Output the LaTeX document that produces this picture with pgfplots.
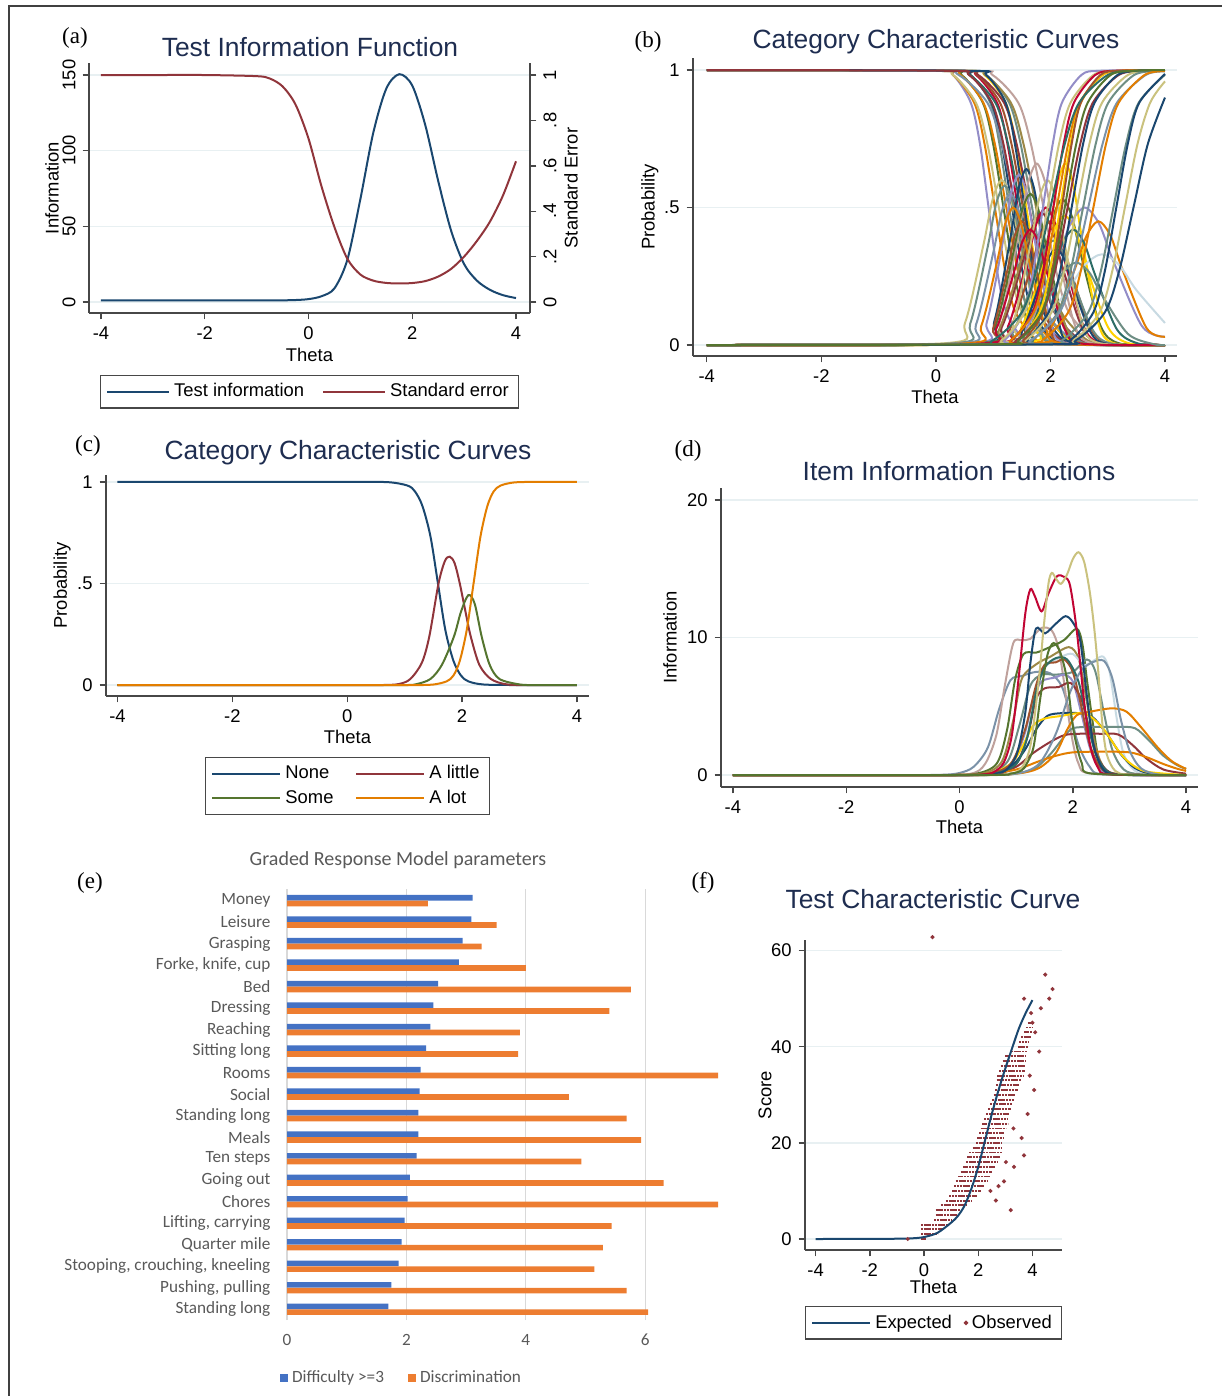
\documentclass[border=0pt]{standalone}
\usepackage{fontspec}
\setmainfont{Liberation Sans}
\newfontfamily\serifpanel{Liberation Serif}
\newfontfamily\carlito{Carlito}
\usepackage{pgfplots}
\pgfplotsset{compat=1.18}
\usepackage{pgfplotstable}

% Stata s2color palette
\definecolor{stnavy}{RGB}{26,71,111}
\definecolor{stmaroon}{RGB}{144,53,59}
\definecolor{stforest}{RGB}{85,117,47}
\definecolor{storange}{RGB}{227,126,0}
\definecolor{stteal}{RGB}{110,142,132}
\definecolor{stcran}{RGB}{193,5,52}
\definecolor{stlav}{RGB}{147,141,199}
\definecolor{stkhaki}{RGB}{202,194,126}
\definecolor{stsienna}{RGB}{160,82,45}
\definecolor{stemid}{RGB}{123,146,168}
\definecolor{stemer}{RGB}{45,109,102}
\definecolor{stbrown}{RGB}{156,136,71}
\definecolor{sterose}{RGB}{191,161,156}
\definecolor{stgold}{RGB}{255,210,0}
\definecolor{stbgray}{RGB}{200,218,226}
\definecolor{sttitle}{RGB}{30,45,80}
\definecolor{stgrid}{RGB}{232,240,242}
% Excel palette
\definecolor{xlblue}{RGB}{68,114,196}
\definecolor{xlorange}{RGB}{237,125,49}
\definecolor{xltext}{RGB}{89,89,89}
\definecolor{xlgrid}{RGB}{217,217,217}

\pgfplotsset{
  stata/.style={
    scale only axis,
    axis x line*=bottom, axis y line*=left,
    axis line style={-, draw=black!72, line width=0.7pt},
    tick align=outside, major tick length=3.2pt,
    tick style={draw=black!72, line width=0.7pt},
    ymajorgrids, grid style={draw=stgrid, line width=0.7pt},
    tick label style={font=\fontsize{9.2}{11}\selectfont},
    label style={font=\fontsize{9.2}{11}\selectfont},
    xtick={-4,-2,0,2,4}, xticklabels={-4,-2,0,2,4},
    every axis plot/.append style={line width=1pt, smooth, no markers},
    legend style={draw=black!72, line width=0.6pt, font=\fontsize{9.2}{11}\selectfont,
      legend columns=2, anchor=north, inner xsep=3pt, inner ysep=2pt, cells={anchor=west},
      /tikz/every even column/.append style={column sep=7pt}},
    legend image code/.code={\draw[#1, line width=1pt] (0pt,0pt) -- (31pt,0pt);},
  },
}

% logistic curves of panel (b): probability column, then theta for each curve
\pgfplotstableread{
yd yi D1 D2 D3 D4 D5 D6 D7 D8 D9 D10 D11 D12 D13 D14 D15 D16 D17 D18 I1 I2 I3 I4 I5 I6 I7 I8 I9 I10 I17 I18
1 0 -4 -4 -4 -4 -4 -4 -4 -4 -4 -4 -4 -4 -4 -4 -4 -4 -4 -4 -4 -4 -4 -4 -4 -4 -4 -4 -4 -4 -4 -4
0.9975 0.0025 0.00 -0.06 -0.10 0.09 0.03 0.28 0.24 0.18 0.34 0.15 0.32 0.49 0.30 0.48 0.42 0.55 -0.10 0.55 0.87 0.75 0.96 0.91 1.08 1.05 0.97 1.17 1.13 1.24 1.20 0.50
0.982 0.018 0.30 0.30 0.30 0.45 0.43 0.61 0.60 0.58 0.70 0.59 0.72 0.85 0.74 0.88 0.86 0.99 0.40 0.88 1.20 1.15 1.32 1.31 1.44 1.45 1.41 1.57 1.57 1.68 1.53 1.00
0.881 0.119 0.61 0.67 0.70 0.82 0.83 0.95 0.97 0.98 1.07 1.04 1.12 1.22 1.19 1.28 1.31 1.44 0.90 1.22 1.54 1.55 1.69 1.71 1.81 1.85 1.86 1.97 2.02 2.13 1.87 1.50
0.731 0.269 0.77 0.85 0.90 1.00 1.03 1.11 1.15 1.18 1.25 1.26 1.32 1.40 1.41 1.48 1.53 1.66 1.15 1.38 1.70 1.75 1.87 1.91 1.99 2.05 2.08 2.17 2.24 2.35 2.03 1.75
0.5 0.5 0.92 1.03 1.10 1.18 1.23 1.28 1.33 1.38 1.43 1.48 1.52 1.58 1.63 1.68 1.75 1.88 1.40 1.55 1.87 1.95 2.05 2.11 2.17 2.25 2.30 2.37 2.46 2.57 2.20 2.00
0.269 0.731 1.07 1.21 1.30 1.36 1.43 1.45 1.51 1.58 1.61 1.70 1.72 1.76 1.85 1.88 1.97 2.10 1.65 1.72 2.04 2.15 2.23 2.31 2.35 2.45 2.52 2.57 2.68 2.79 2.37 2.25
0.119 0.881 1.23 1.39 1.50 1.54 1.63 1.61 1.69 1.78 1.79 1.92 1.92 1.94 2.07 2.08 2.19 2.32 1.90 1.88 2.20 2.35 2.41 2.51 2.53 2.65 2.74 2.77 2.90 3.01 2.53 2.50
0.018 0.982 1.54 1.76 1.90 1.91 2.03 1.95 2.06 2.18 2.16 2.37 2.32 2.31 2.52 2.48 2.64 2.77 2.40 2.22 2.54 2.75 2.78 2.91 2.90 3.05 3.19 3.17 3.35 3.46 2.87 3.00
0.0025 0.9975 1.84 2.12 2.30 2.27 2.43 2.28 2.42 2.58 2.52 2.81 2.72 2.67 2.96 2.88 3.08 3.21 2.90 2.55 2.87 3.15 3.14 3.31 3.26 3.45 3.63 3.57 3.79 3.90 3.20 3.50
0 1 4 4 4 4 4 4 4 4 4 4 4 4 4 4 4 4 4 4 4 4 4 4 4 4 4 4 4 4 4 4
}\logis

\begin{document}
\begin{tikzpicture}
\useasboundingbox (0pt,0pt) rectangle (611pt,-698pt);
\draw[black!75, line width=0.6pt] (4.5pt,-698pt) -- (4.5pt,-3pt) -- (611pt,-3pt);

% ---------------- (a) Test information function
\begin{axis}[stata, at={(44.5pt,-156.5pt)}, anchor=south west,
  width=220.5pt, height=125pt,
  xmin=-4.231, xmax=4.27, ymin=-7.27, ymax=157.9,
  ytick={0,50,100,150}, yticklabels={0,50,100,150},
  yticklabel style={rotate=90, anchor=south},
  xlabel={Theta}, ylabel={Information},
  xlabel style={at={(axis description cs:0.5,-0.168)}, anchor=center},
  ylabel style={at={(axis description cs:-0.084,0.5)}, anchor=center},
]
\addplot[stnavy] coordinates {(-4,1) (-3,1) (-2,1) (-1,1.01) (-0.75,1.03) (-0.5,1.1) (-0.25,1.3) (0,1.9) (0.25,3.8) (0.5,9) (0.75,28) (1.0,68) (1.25,112) (1.5,141) (1.75,150.5) (2.0,143) (2.25,117) (2.5,80) (2.75,47) (3.0,25) (3.25,14) (3.5,8) (3.75,4.5) (4,2.6)};
\end{axis}
\begin{axis}[stata, at={(44.5pt,-156.5pt)}, anchor=south west,
  width=220.5pt, height=125pt,
  xmin=-4.231, xmax=4.27, ymin=-0.0485, ymax=1.053,
  axis x line=none, axis y line*=right, ymajorgrids=false,
  ytick={0,0.2,0.4,0.6,0.8,1}, yticklabels={0,.2,.4,.6,.8,1},
  yticklabel style={rotate=90, anchor=north},
  ylabel={Standard Error},
  ylabel style={at={(axis description cs:1.093,0.5)}, anchor=center},
  legend style={at={(axis description cs:0.5,-0.248)}},
]
\addlegendimage{stnavy, line width=1pt}
\addlegendentry{Test information}
\addplot[stmaroon] coordinates {(-4,1) (-3,1) (-2,1) (-1,0.995) (-0.75,0.985) (-0.5,0.95) (-0.25,0.87) (0,0.72) (0.25,0.51) (0.5,0.33) (0.75,0.19) (1.0,0.121) (1.25,0.094) (1.5,0.084) (1.75,0.0815) (2.0,0.0836) (2.25,0.092) (2.5,0.112) (2.75,0.146) (3.0,0.2) (3.25,0.27) (3.5,0.355) (3.75,0.47) (4,0.62)};
\addlegendentry{Standard error}
\end{axis}

% ---------------- (b) Category characteristic curves, all items
\begin{axis}[stata, at={(346.5pt,-178pt)}, anchor=south west,
  width=242pt, height=149pt,
  xmin=-4.24, xmax=4.21, ymin=-0.04, ymax=1.044,
  ytick={0,0.5,1}, yticklabels={0,.5,1},
  xlabel={Theta}, ylabel={Probability},
  xlabel style={at={(axis description cs:0.5,-0.138)}, anchor=center},
  ylabel style={at={(axis description cs:-0.089,0.5)}, anchor=center},
]
\addplot[stlav] table[x=D1,y=yd] {\logis};
\addplot[storange] table[x=D2,y=yd] {\logis};
\addplot[stkhaki] table[x=D3,y=yd] {\logis};
\addplot[stforest] table[x=D4,y=yd] {\logis};
\addplot[storange] table[x=D5,y=yd] {\logis};
\addplot[stteal] table[x=D6,y=yd] {\logis};
\addplot[stnavy] table[x=D7,y=yd] {\logis};
\addplot[stcran] table[x=D9,y=yd] {\logis};
\addplot[stemer] table[x=D10,y=yd] {\logis};
\addplot[stsienna] table[x=D11,y=yd] {\logis};
\addplot[stgold] table[x=D12,y=yd] {\logis};
\addplot[stmaroon] table[x=D13,y=yd] {\logis};
\addplot[stteal] table[x=D14,y=yd] {\logis};
\addplot[stbrown] table[x=D15,y=yd] {\logis};
\addplot[sterose] table[x=D16,y=yd] {\logis};
\addplot[stemid] table[x=D17,y=yd] {\logis};
\addplot[stnavy] table[x=D18,y=yd] {\logis};
\addplot[stmaroon] table[x=D8,y=yd] {\logis};
% middle categories
\addplot[stkhaki] coordinates {(-4,0)(0.19,0.007)(0.51,0.081)(0.83,0.364)(0.99,0.529)(1.15,0.60)(1.31,0.529)(1.47,0.364)(1.79,0.081)(2.11,0.007)(4,0)};
\addplot[stteal] coordinates {(-4,0)(0.30,0.006)(0.60,0.078)(0.90,0.352)(1.05,0.512)(1.20,0.58)(1.35,0.512)(1.50,0.352)(1.80,0.078)(2.10,0.006)(4,0)};
\addplot[stemid] coordinates {(-4,0)(0.40,0.006)(0.70,0.074)(1.00,0.334)(1.15,0.485)(1.30,0.55)(1.45,0.485)(1.60,0.334)(1.90,0.074)(2.20,0.006)(4,0)};
\addplot[stlav] coordinates {(-4,0)(0.61,0.007)(0.89,0.084)(1.17,0.376)(1.31,0.547)(1.45,0.62)(1.59,0.547)(1.73,0.376)(2.01,0.084)(2.29,0.007)(4,0)};
\addplot[stnavy] coordinates {(-4,0)(0.74,0.007)(1.02,0.086)(1.30,0.388)(1.44,0.564)(1.58,0.64)(1.72,0.564)(1.86,0.388)(2.14,0.086)(2.42,0.007)(4,0)};
\addplot[sterose] coordinates {(-4,0)(0.80,0.007)(1.12,0.089)(1.44,0.401)(1.60,0.582)(1.76,0.66)(1.92,0.582)(2.08,0.401)(2.40,0.089)(2.72,0.007)(4,0)};
\addplot[stforest] coordinates {(-4,0)(0.75,0.006)(1.05,0.074)(1.35,0.334)(1.50,0.485)(1.65,0.55)(1.80,0.485)(1.95,0.334)(2.25,0.074)(2.55,0.006)(4,0)};
\addplot[stmaroon] coordinates {(-4,0)(0.80,0.005)(1.15,0.065)(1.50,0.291)(1.675,0.423)(1.85,0.48)(2.025,0.423)(2.20,0.291)(2.55,0.065)(2.90,0.005)(4,0)};
\addplot[stcran] coordinates {(-4,0)(0.93,0.006)(1.26,0.068)(1.59,0.304)(1.755,0.441)(1.92,0.50)(2.085,0.441)(2.25,0.304)(2.58,0.068)(2.91,0.006)(4,0)};
\addplot[stsienna] coordinates {(-4,0)(0.95,0.005)(1.30,0.061)(1.65,0.273)(1.825,0.397)(2.00,0.45)(2.175,0.397)(2.35,0.273)(2.70,0.061)(3.05,0.005)(4,0)};
\addplot[stforest] coordinates {(-4,0)(1.22,0.006)(1.55,0.072)(1.88,0.322)(2.045,0.467)(2.21,0.53)(2.375,0.467)(2.54,0.322)(2.87,0.072)(3.20,0.006)(4,0)};
\addplot[stgold] coordinates {(-4,0)(1.42,0.007)(1.70,0.089)(1.98,0.401)(2.12,0.582)(2.26,0.66)(2.40,0.582)(2.54,0.401)(2.82,0.089)(3.10,0.007)(4,0)};
\addplot[stgold] coordinates {(-4,0)(1.11,0.005)(1.49,0.063)(1.87,0.285)(2.06,0.415)(2.25,0.47)(2.44,0.415)(2.63,0.285)(3.01,0.063)(3.39,0.005)(4,0)};
\addplot[stlav] coordinates {(-4,0)(1.10,0.006)(1.60,0.068)(2.10,0.304)(2.35,0.441)(2.60,0.50)(2.85,0.441)(3.10,0.304)(3.60,0.068)(4,0.03)};
\addplot[storange] coordinates {(-4,0)(1.58,0.005)(2.00,0.061)(2.42,0.273)(2.63,0.397)(2.84,0.45)(3.05,0.397)(3.26,0.273)(3.68,0.061)(4,0.03)};
\addplot[stbgray] coordinates {(-4,0)(1.10,0.004)(1.70,0.045)(2.30,0.200)(2.60,0.291)(2.90,0.33)(3.20,0.291)(3.50,0.200)(4,0.08)};
\addplot[stbrown] coordinates {(-4,0)(0.80,0.004)(1.10,0.054)(1.40,0.243)(1.55,0.353)(1.70,0.40)(1.85,0.353)(2.00,0.243)(2.30,0.054)(2.60,0.004)(4,0)};
\addplot[stteal] coordinates {(-4,0)(1.00,0.004)(1.35,0.051)(1.70,0.231)(1.875,0.335)(2.05,0.38)(2.225,0.335)(2.40,0.231)(2.75,0.051)(3.10,0.004)(4,0)};
\addplot[stsienna] coordinates {(-4,0)(0.75,0.005)(1.00,0.061)(1.25,0.273)(1.375,0.397)(1.50,0.45)(1.625,0.397)(1.75,0.273)(2.00,0.061)(2.25,0.005)(4,0)};
\addplot[stemer] coordinates {(-4,0)(1.26,0.005)(1.64,0.057)(2.02,0.255)(2.21,0.370)(2.40,0.42)(2.59,0.370)(2.78,0.255)(3.16,0.057)(3.54,0.005)(4,0)};
\addplot[storange] coordinates {(-4,0)(0.51,0.006)(0.79,0.068)(1.07,0.304)(1.21,0.441)(1.35,0.50)(1.49,0.441)(1.63,0.304)(1.91,0.068)(2.19,0.006)(4,0)};
\addplot[stnavy] coordinates {(-4,0)(1.20,0.004)(1.50,0.047)(1.80,0.212)(1.95,0.309)(2.10,0.35)(2.25,0.309)(2.40,0.212)(2.70,0.047)(3.00,0.004)(4,0)};
\addplot[stkhaki] coordinates {(-4,0)(1.05,0.007)(1.35,0.081)(1.65,0.364)(1.80,0.529)(1.95,0.60)(2.10,0.529)(2.25,0.364)(2.55,0.081)(2.85,0.007)(4,0)};
\addplot[stcran] coordinates {(-4,0)(0.75,0.005)(1.05,0.057)(1.35,0.255)(1.50,0.370)(1.65,0.42)(1.80,0.370)(1.95,0.255)(2.25,0.057)(2.55,0.005)(4,0)};
\addplot[stteal] coordinates {(-4,0)(1.10,0.003)(1.55,0.041)(2.00,0.182)(2.225,0.265)(2.45,0.30)(2.675,0.265)(2.90,0.182)(3.35,0.041)(3.80,0.003)(4,0)};
% highest category
\addplot[stlav] table[x=I1,y=yi] {\logis};
\addplot[stkhaki] table[x=I2,y=yi] {\logis};
\addplot[stcran] table[x=I3,y=yi] {\logis};
\addplot[storange] table[x=I4,y=yi] {\logis};
\addplot[stgold] table[x=I5,y=yi] {\logis};
\addplot[stmaroon] table[x=I7,y=yi] {\logis};
\addplot[stnavy] table[x=I8,y=yi] {\logis};
\addplot[stkhaki] table[x=I9,y=yi] {\logis};
\addplot[stteal] table[x=I10,y=yi] {\logis};
\addplot[stsienna] table[x=I17,y=yi] {\logis};
\addplot[stemer] table[x=I18,y=yi] {\logis};
\addplot[stemid] coordinates {(-4,0)(1.16,0.0025)(1.66,0.018)(2.16,0.119)(2.41,0.269)(2.66,0.5)(2.91,0.731)(3.16,0.881)(3.66,0.982)(4,0.995)};
\addplot[storange] coordinates {(-4,0)(1.42,0.0025)(1.86,0.018)(2.31,0.119)(2.53,0.269)(2.75,0.5)(2.97,0.731)(3.19,0.881)(3.64,0.982)(4,0.996)};
\addplot[stteal] coordinates {(-4,0)(1.77,0.0025)(2.21,0.018)(2.66,0.119)(2.88,0.269)(3.10,0.5)(3.32,0.731)(3.54,0.881)(4,0.983)};
\addplot[stnavy] coordinates {(-4,0)(1.95,0.0025)(2.35,0.018)(2.75,0.119)(2.95,0.269)(3.15,0.5)(3.35,0.731)(3.55,0.881)(4,0.986)};
\addplot[stkhaki] coordinates {(-4,0)(1.97,0.0025)(2.41,0.018)(2.86,0.119)(3.08,0.269)(3.30,0.5)(3.52,0.731)(3.74,0.881)(4,0.959)};
\addplot[stnavy] coordinates {(-4,0)(1.95,0.0025)(2.45,0.018)(2.95,0.119)(3.20,0.269)(3.45,0.5)(3.70,0.731)(4,0.90)};
\addplot[stforest] table[x=I6,y=yi] {\logis};
\end{axis}

% ---------------- (c) Category characteristic curves, one item
\begin{axis}[stata, at={(53pt,-348pt)}, anchor=south west,
  width=241.5pt, height=110.5pt,
  xmin=-4.2, xmax=4.21, ymin=-0.054, ymax=1.034,
  ytick={0,0.5,1}, yticklabels={0,.5,1},
  xlabel={Theta}, ylabel={Probability},
  xlabel style={at={(axis description cs:0.5,-0.186)}, anchor=center},
  ylabel style={at={(axis description cs:-0.091,0.5)}, anchor=center},
  legend style={at={(axis description cs:0.5,-0.276)}, /tikz/every even column/.append style={column sep=3pt}},
  legend image code/.code={\draw[#1, line width=1pt] (0pt,0pt) -- (34pt,0pt);},
]
\addplot[stnavy] coordinates {(-4,1) (0,1) (0.7,0.999) (1.05,0.982) (1.18,0.953) (1.31,0.881) (1.45,0.731) (1.58,0.5) (1.71,0.269) (1.85,0.119) (1.98,0.047) (2.11,0.018) (2.38,0.0025) (3,0) (4,0)};
\addlegendentry{\makebox[30pt][l]{None}}
\addplot[stmaroon] coordinates {(-4,0) (0,0) (0.6,0) (0.9,0.005) (1.1,0.03) (1.3,0.11) (1.43,0.24) (1.59,0.5) (1.7,0.61) (1.785,0.632) (1.87,0.6) (1.96,0.5) (2.06,0.36) (2.15,0.24) (2.3,0.1) (2.5,0.03) (2.78,0.003) (3.2,0) (4,0)};
\addlegendentry{A little}
\addplot[stforest] coordinates {(-4,0) (0,0) (1.0,0) (1.2,0.004) (1.45,0.03) (1.65,0.1) (1.86,0.24) (1.98,0.36) (2.11,0.443) (2.22,0.4) (2.34,0.24) (2.48,0.1) (2.65,0.03) (3.0,0.003) (3.3,0) (4,0)};
\addlegendentry{\makebox[30pt][l]{Some}}
\addplot[storange] coordinates {(-4,0) (0,0) (1.2,0) (1.5,0.0025) (1.73,0.018) (1.85,0.047) (1.96,0.119) (2.08,0.269) (2.2,0.5) (2.32,0.731) (2.44,0.881) (2.55,0.953) (2.67,0.982) (2.91,0.9975) (3.3,1) (4,1)};
\addlegendentry{A lot}
\end{axis}

% ---------------- (d) Item information functions
\begin{axis}[stata, at={(360.5pt,-393.5pt)}, anchor=south west,
  width=238.5pt, height=149.5pt,
  xmin=-4.21, xmax=4.21, ymin=-0.87, ymax=20.87,
  ytick={0,10,20}, yticklabels={0,10,20},
  xlabel={Theta}, ylabel={Information},
  xlabel style={at={(axis description cs:0.5,-0.134)}, anchor=center},
  ylabel style={at={(axis description cs:-0.107,0.5)}, anchor=center},
]
\addplot[stemid] coordinates {(-4,0) (-1,0) (-0.3,0.02) (0,0.15) (0.25,0.6) (0.5,2.0) (0.7,4.8) (0.9,6.9) (1.1,7.2) (1.35,7.5) (1.6,7.4) (1.8,6.5) (1.95,4.5) (2.1,2.2) (2.3,0.6) (2.55,0.05) (4,0)};
\addplot[sterose] coordinates {(-4,0) (-0.5,0) (0.2,0.1) (0.45,0.8) (0.65,2.9) (0.8,6.5) (0.95,9.6) (1.1,9.8) (1.25,9.9) (1.45,10.7) (1.63,10.5) (1.75,9.2) (1.84,6.9) (1.96,3.3) (2.1,0.85) (2.35,0.1) (4,0)};
\addplot[stforest] coordinates {(-4,0) (-0.3,0) (0.3,0.1) (0.66,0.85) (0.84,3.3) (0.98,6.9) (1.13,8.8) (1.35,8.9) (1.54,9.2) (1.84,9.8) (2.07,10.65) (2.17,9.5) (2.25,6.9) (2.37,3.3) (2.48,0.85) (2.7,0.1) (4,0)};
\addplot[stbrown] coordinates {(-4,0) (-0.3,0) (0.4,0.1) (0.75,1) (0.95,4) (1.1,7) (1.37,8.1) (1.6,8.6) (1.93,9.3) (2.1,8.5) (2.22,6) (2.35,3) (2.5,0.9) (2.75,0.1) (4,0)};
\addplot[stbgray] coordinates {(-4,0) (0,0) (0.6,0.1) (1.0,0.8) (1.2,3) (1.35,6) (1.5,7.8) (1.8,8.6) (2.0,8.8) (2.2,8.0) (2.4,8.4) (2.54,8.6) (2.65,7.5) (2.78,4) (2.9,1.5) (3.1,0.3) (3.4,0.03) (4,0)};
\addplot[stteal] coordinates {(-4,0) (-0.2,0) (0.5,0.1) (0.85,1) (1.05,3.5) (1.25,6.5) (1.45,7.3) (1.7,7.3) (2.0,7.5) (2.25,8.4) (2.4,7.5) (2.55,4.5) (2.7,1.8) (2.9,0.4) (3.2,0.05) (4,0)};
\addplot[stteal] coordinates {(-4,0) (0,0) (0.9,0.1) (1.3,0.4) (1.6,1.5) (1.85,2.8) (2.0,3.4) (2.3,3.5) (2.8,3.5) (3.1,3.4) (3.35,2.5) (3.6,1.4) (3.85,0.7) (4,0.45)};
\addplot[stlav] coordinates {(-4,0) (0,0) (0.6,0.1) (0.95,1) (1.15,3) (1.3,5.5) (1.45,6.8) (1.7,7.1) (1.84,7.3) (2.0,6.8) (2.15,4.5) (2.3,2) (2.45,0.6) (2.7,0.05) (4,0)};
\addplot[stmaroon] coordinates {(-4,0) (0,0) (0.7,0.1) (1.0,0.8) (1.2,2.8) (1.35,5.5) (1.5,6.3) (1.75,6.4) (1.96,6.7) (2.15,5.5) (2.3,3.2) (2.45,1.2) (2.65,0.2) (3.0,0) (4,0)};
\addplot[stmaroon] coordinates {(-4,0) (-0.2,0) (0.6,0.1) (1.0,0.6) (1.3,1.6) (1.6,2.4) (1.85,2.9) (2.1,3.0) (2.5,3.0) (2.8,2.95) (3.05,2.2) (3.3,1.2) (3.6,0.4) (4,0.1)};
\addplot[stnavy] coordinates {(-4,0) (-0.2,0) (0.5,0.1) (0.9,0.6) (1.15,1.8) (1.35,3.3) (1.55,4.3) (1.8,4.5) (2.1,4.5) (2.35,4.2) (2.6,3) (2.85,1.5) (3.1,0.5) (3.4,0.1) (4,0)};
\addplot[stgold] coordinates {(-4,0) (-0.2,0) (0.5,0.1) (0.9,0.8) (1.1,2) (1.3,3.6) (1.5,4.1) (1.8,4.3) (2.1,4.5) (2.3,4.3) (2.55,3.3) (2.8,1.8) (3.0,0.9) (3.3,0.25) (4,0)};
\addplot[storange] coordinates {(-4,0) (0.3,0) (1.0,0.1) (1.4,0.5) (1.7,1.6) (1.9,3.3) (2.07,4.35) (2.3,4.6) (2.69,4.85) (2.95,4.6) (3.2,3.5) (3.5,2) (3.75,1.0) (4,0.45)};
\addplot[storange] coordinates {(-4,0) (-0.2,0) (0.5,0.1) (1.0,0.4) (1.4,1.0) (1.7,1.4) (2.0,1.65) (2.5,1.7) (3.0,1.65) (3.3,1.3) (3.6,0.8) (3.85,0.45) (4,0.3)};
\addplot[stsienna] coordinates {(-4,0) (-0.2,0) (0.5,0.1) (0.9,0.8) (1.15,3.2) (1.35,6.5) (1.5,8.0) (1.7,8.2) (1.85,8.4) (2.0,7.5) (2.15,5) (2.3,2.2) (2.5,0.5) (2.8,0.05) (4,0)};
\addplot[stemer] coordinates {(-4,0) (0,0) (0.6,0.1) (1.0,0.8) (1.2,2.8) (1.35,6) (1.5,7.8) (1.7,8.5) (1.9,8.4) (2.1,6.8) (2.25,4) (2.4,1.6) (2.6,0.3) (2.9,0.02) (4,0)};
\addplot[stemid] coordinates {(-4,0) (0.3,0) (1.0,0.1) (1.4,0.8) (1.7,3) (1.95,6) (2.15,7.6) (2.35,8.2) (2.55,8.3) (2.7,7) (2.85,4) (3.0,1.8) (3.2,0.5) (3.5,0.05) (4,0)};
\addplot[stnavy] coordinates {(-4,0) (0,0) (0.5,0.05) (0.8,0.3) (1.01,1.5) (1.16,4.5) (1.25,8.1) (1.35,10.65) (1.51,10.3) (1.7,11.0) (1.87,11.55) (2.0,11.1) (2.13,9.8) (2.25,5.7) (2.37,2.1) (2.54,0.4) (2.8,0.03) (4,0)};
\addplot[stcran] coordinates {(-4,0) (0,0) (0.4,0.03) (0.6,0.2) (0.78,0.9) (0.92,2.8) (1.04,6.9) (1.16,11.7) (1.25,13.5) (1.33,13.0) (1.45,11.9) (1.57,13.2) (1.72,14.45) (1.85,14.4) (1.95,13.8) (2.07,10.5) (2.19,5.7) (2.31,2.1) (2.45,0.5) (2.65,0.05) (4,0)};
\addplot[stkhaki] coordinates {(-4,0) (0.3,0) (0.8,0.05) (1.07,0.4) (1.25,2.1) (1.4,6.9) (1.48,10.5) (1.57,13.9) (1.63,14.7) (1.7,14.3) (1.79,13.9) (1.9,14.6) (2.0,15.7) (2.1,16.2) (2.2,15.5) (2.3,13.3) (2.38,10.6) (2.45,7.5) (2.52,3.8) (2.6,1.5) (2.75,0.3) (3.0,0.03) (4,0)};
\addplot[stforest] coordinates {(-4,0) (0.4,0) (0.9,0.1) (1.1,0.35) (1.19,0.85) (1.31,2.1) (1.43,5.7) (1.55,8.7) (1.66,9.6) (1.78,8.9) (1.9,6.9) (2.01,3.3) (2.16,0.85) (2.35,0.1) (4,0)};
\end{axis}

% ---------------- (e) Graded response model parameters
\begin{axis}[at={(143.5pt,-660pt)}, anchor=south west, scale only axis,
  width=215.5pt, height=215.5pt,
  xmin=0, xmax=7.22, ymin=-0.5, ymax=19.54,
  xbar, bar width=2.85pt,
  axis line style={draw=none}, tick style={draw=none},
  xmajorgrids, grid style={draw=xlgrid, line width=0.6pt},
  xtick={0,2,4,6}, xticklabels={0,2,4,6},
  ytick={0,...,19},
  yticklabels={{Standing long},{Pushing, pulling},{Stooping, crouching, kneeling},{Quarter mile},{Lifting, carrying},{Chores},{Going out},{Ten steps},{Meals},{Standing long},{Social},{Rooms},{Sitting long},{Reaching},{Dressing},{Bed},{Forke, knife, cup},{Grasping},{Leisure},{Money}},
  tick label style={font=\carlito\fontsize{8.6}{10}\selectfont, text=xltext},
  xticklabel style={yshift=-3.5pt},
  yticklabel style={xshift=-0.5pt},
  legend style={at={(axis description cs:0.268,-0.097)}, anchor=north, legend columns=2, draw=none,
    font=\carlito\fontsize{8.6}{10}\selectfont, text=xltext,
    /tikz/every even column/.append style={column sep=10pt}},
  legend image code/.code={\fill[#1] (0pt,-2pt) rectangle (4pt,2pt);},
]
\addplot[fill=xlblue, draw=none, bar shift=1.43pt] coordinates {(1.70,0) (1.75,1) (1.87,2) (1.92,3) (1.97,4) (2.02,5) (2.06,6) (2.17,7) (2.20,8) (2.20,9) (2.22,10) (2.24,11) (2.33,12) (2.40,13) (2.45,14) (2.53,15) (2.88,16) (2.94,17) (3.09,18) (3.11,19)};
\addlegendentry{Difficulty >=3}
\addplot[fill=xlorange, draw=none, bar shift=-1.43pt] coordinates {(6.05,0) (5.69,1) (5.15,2) (5.29,3) (5.44,4) (7.5,5) (6.31,6) (4.93,7) (5.93,8) (5.69,9) (4.72,10) (7.5,11) (3.87,12) (3.90,13) (5.40,14) (5.76,15) (4.00,16) (3.26,17) (3.51,18) (2.36,19)};
\addlegendentry{Discrimination}
\end{axis}

% ---------------- (f) Test characteristic curve
\begin{axis}[stata, at={(402.5pt,-625pt)}, anchor=south west,
  width=128.5pt, height=155pt, clip=false,
  xmin=-4.39, xmax=5.09, ymin=-2.29, ymax=62.2,
  ytick={0,20,40,60}, yticklabels={0,20,40,60},
  xlabel={Theta}, ylabel={Score},
  xlabel style={at={(axis description cs:0.5,-0.119)}, anchor=center},
  ylabel style={at={(axis description cs:-0.156,0.5)}, anchor=center},
  legend style={at={(axis description cs:0.5,-0.181)}, /tikz/every even column/.append style={column sep=4pt}},
  legend image code/.code={\draw[#1, line width=1pt] (0pt,0pt) -- (29pt,0pt);},
]
% observed scores: one streak of points for each score value
\addplot[stmaroon, line width=0.95pt, sharp plot, dash pattern=on 1.1pt off 0.3pt, unbounded coords=jump, forget plot] table {
x y
-0.10 0
0.10 0
nan nan
-0.12 1
0.50 1
nan nan
-0.12 2
0.75 2
nan nan
-0.12 3
0.88 3
nan nan
0.37 4
1.05 4
nan nan
0.43 5
1.23 5
nan nan
0.43 6
1.35 6
nan nan
0.62 7
1.56 7
nan nan
0.80 8
1.78 8
nan nan
0.93 9
1.94 9
nan nan
1.05 10
2.09 10
nan nan
1.11 11
2.22 11
nan nan
1.17 12
2.34 12
nan nan
1.27 13
2.43 13
nan nan
1.35 14
2.52 14
nan nan
1.45 15
2.62 15
nan nan
1.54 16
2.71 16
nan nan
1.60 17
2.80 17
nan nan
1.66 18
2.89 18
nan nan
1.79 19
2.89 19
nan nan
1.91 20
2.89 20
nan nan
1.97 21
2.92 21
nan nan
2.03 22
2.95 22
nan nan
2.09 23
3.02 23
nan nan
2.15 24
3.08 24
nan nan
2.22 25
3.11 25
nan nan
2.28 26
3.14 26
nan nan
2.36 27
3.19 27
nan nan
2.44 28
3.24 28
nan nan
2.51 29
3.31 29
nan nan
2.57 30
3.37 30
nan nan
2.62 31
3.45 31
nan nan
2.65 32
3.51 32
nan nan
2.68 33
3.60 33
nan nan
2.71 34
3.69 34
nan nan
2.77 35
3.72 35
nan nan
2.83 36
3.75 36
nan nan
2.90 37
3.76 37
nan nan
3.00 38
3.78 38
nan nan
3.20 39
3.80 39
nan nan
3.45 40
3.82 40
nan nan
3.51 41
3.88 41
nan nan
3.57 42
3.94 42
nan nan
3.70 43
3.98 43
nan nan
3.76 44
4.02 44
nan nan
3.82 45
4.06 45
};
\addplot[stmaroon, mark=*, mark size=0.4pt, mark options={draw=none, fill=stmaroon}, only marks, forget plot] coordinates {(-0.6,0) (0.31,62.8) (3.2,6) (2.65,8) (2.45,10) (2.75,11) (2.95,12) (3.02,16) (3.32,15) (3.69,17.4) (3.6,21) (3.3,23) (3.82,26) (4.06,31) (3.9,34) (4.25,39) (4.1,43) (3.69,50) (4.31,48) (4.47,55) (4.74,52) (4.62,50) (4.0,45) (3.95,47)};
\addplot[stnavy] coordinates {(-4,0) (-2,0.02) (-1,0.06) (-0.5,0.12) (0,0.4) (0.5,1.3) (1,3.4) (1.25,4.8) (1.5,7) (1.75,10.5) (2,15) (2.25,20.5) (2.5,26) (2.75,31) (3,35.5) (3.25,39.7) (3.5,43.8) (3.75,47) (4,49.7)};
\addlegendentry{Expected}
\addlegendimage{legend image code/.code={\fill[stmaroon] (2pt,0pt) circle (0.5pt);}}
\addlegendentry{Observed}
\end{axis}

% ---------------- titles and panel letters
\begin{scope}[x=0.5pt, y=-0.5pt]
\node[font=\fontsize{13.2}{15}\selectfont, text=sttitle] at (310,47) {Test Information Function};
\node[font=\fontsize{13.2}{15}\selectfont, text=sttitle] at (936,42) {Category Characteristic Curves};
\node[font=\fontsize{13.2}{15}\selectfont, text=sttitle] at (348,453) {Category Characteristic Curves};
\node[font=\fontsize{13.2}{15}\selectfont, text=sttitle] at (959,471) {Item Information Functions};
\node[font=\fontsize{13.2}{15}\selectfont, text=sttitle] at (933,899) {Test Characteristic Curve};
\node[font=\carlito\fontsize{10}{12}\selectfont, text=xltext] at (398,860) {Graded Response Model parameters};
\node[font=\serifpanel\fontsize{11.5}{13}\selectfont] at (75,38) {(a)};
\node[font=\serifpanel\fontsize{11.5}{13}\selectfont] at (648,42) {(b)};
\node[font=\serifpanel\fontsize{11.5}{13}\selectfont] at (88,446) {(c)};
\node[font=\serifpanel\fontsize{11.5}{13}\selectfont] at (688,451) {(d)};
\node[font=\serifpanel\fontsize{11.5}{13}\selectfont] at (90,883) {(e)};
\node[font=\serifpanel\fontsize{11.5}{13}\selectfont] at (703,883) {(f)};
\end{scope}
\end{tikzpicture}
\end{document}
